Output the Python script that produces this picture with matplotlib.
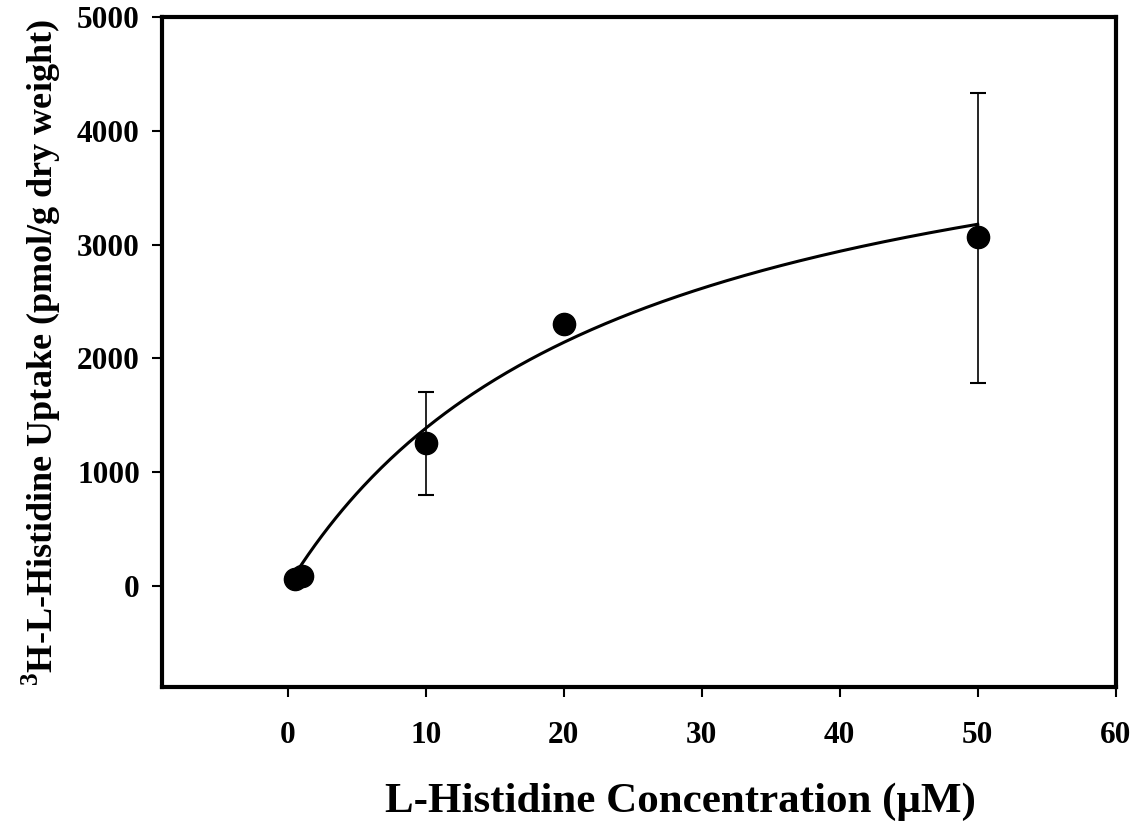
import numpy as np
import matplotlib
matplotlib.use("Agg")
import matplotlib.pyplot as plt

plt.rcParams['font.family'] = ['Liberation Serif', 'DejaVu Serif']
plt.rcParams['font.weight'] = 'bold'
plt.rcParams['mathtext.fontset'] = 'custom'
plt.rcParams['mathtext.rm'] = 'Liberation Serif:bold'
plt.rcParams['mathtext.bf'] = 'Liberation Serif:bold'

# Data
conc = [0.5, 1, 10, 20, 50]            # L-histidine concentration (uM)
uptake = [60, 85, 1255, 2300, 3065]    # pmol/g dry weight
err_low = [0, 0, 455, 0, 1280]
err_high = [0, 0, 450, 0, 1270]

# Michaelis-Menten fit shown as the solid line
vmax = 4700
km = 23.9
fit_start, fit_end = 0.5, 50

fig = plt.figure(figsize=(11.42, 8.21), dpi=100)
ax = fig.add_axes([0.142, 0.163, 0.835, 0.816])

xs = np.linspace(fit_start, fit_end, 300)
ax.plot(xs, vmax * xs / (km + xs), color='black', lw=2.2, zorder=2)

ax.errorbar(conc, uptake, yerr=[err_low, err_high], fmt='none',
            ecolor='black', elinewidth=1.2, capsize=5.5, capthick=1.5, zorder=1)
ax.plot(conc, uptake, 'o', color='black', markersize=16, zorder=3)

ax.set_xlim(-9.1, 60)
ax.set_ylim(-890, 5000)
ax.set_xticks([0, 10, 20, 30, 40, 50, 60])
ax.set_yticks([0, 1000, 2000, 3000, 4000, 5000])

for s in ax.spines.values():
    s.set_linewidth(3)
ax.tick_params(direction='out', length=7, width=1.5, labelsize=22.5)
ax.tick_params(axis='x', pad=17)
ax.tick_params(axis='y', pad=9)
for lab in ax.get_xticklabels() + ax.get_yticklabels():
    lab.set_fontweight('bold')

# x label sits a little right of the axes centre, as in the original
ax.set_xlabel('L-Histidine Concentration (\u03bcM)', fontsize=31,
              fontweight='bold', va='baseline')
ax.xaxis.set_label_coords(0.543, -0.186)
ax.set_ylabel(r'$^{\mathbf{3}}$H-L-Histidine Uptake (pmol/g dry weight)',
              fontsize=26, fontweight='bold', labelpad=10)

fig.savefig('out.png', dpi=100)
